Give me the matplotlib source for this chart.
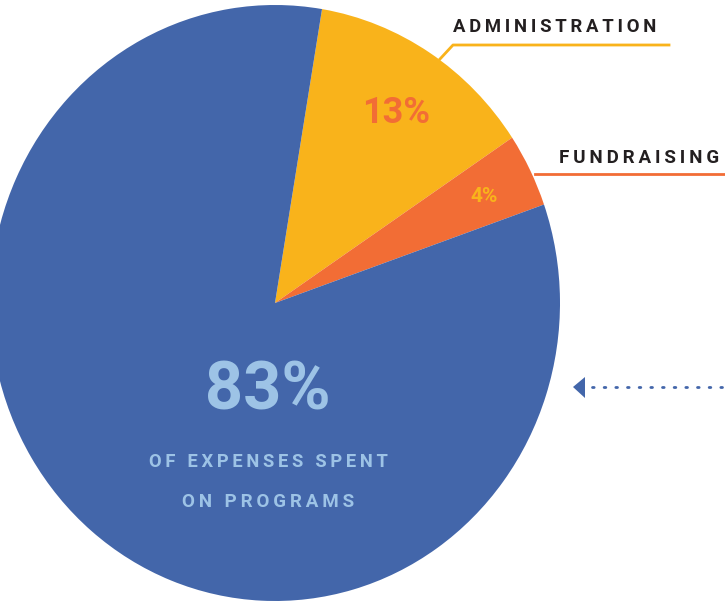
import matplotlib
matplotlib.use("Agg")
import matplotlib.pyplot as plt
from matplotlib.patches import Polygon

plt.rcParams['font.family'] = ['Roboto', 'DejaVu Sans']

# Expense breakdown (percent of total), clockwise from the top
categories = ["Administration", "Fundraising", "Programs"]
shares = [13, 4, 83]
colors = ["#F9B31B", "#F26D35", "#4366AA"]

W, H = 725, 603
fig = plt.figure(figsize=(W / 100, H / 100), dpi=100)

# pie axes: slightly taller than wide, cut off on the left like the original
cx, cy, rx, ry = 275, 303, 285, 298
ax = fig.add_axes([(cx - rx) / W, (H - cy - ry) / H, 2 * rx / W, 2 * ry / H])
ax.pie(shares, colors=colors, startangle=80.5, counterclock=False,
       radius=1, wedgeprops=dict(linewidth=0))
ax.set_aspect('auto')
ax.set_xlim(-1, 1)
ax.set_ylim(-1, 1)
ax.axis('off')

# overlay in pixel coordinates for labels and callouts
ov = fig.add_axes([0, 0, 1, 1])
ov.set_xlim(0, W)
ov.set_ylim(H, 0)
ov.axis('off')


def spaced(s):
    return "\u2009".join(s)


# values inside the pie
ov.text(268, 392, f"{shares[2]}%", color="#9DC3E6", fontsize=48,
        fontweight='bold', ha='center', va='center')
ov.text(268, 462, spaced("OF EXPENSES SPENT"), color="#9DC3E6", fontsize=13.2,
        fontweight='bold', ha='center', va='center')
ov.text(268, 502, spaced("ON PROGRAMS"), color="#9DC3E6", fontsize=13.5,
        fontweight='bold', ha='center', va='center')
ov.text(396, 113, f"{shares[0]}%", color=colors[1], fontsize=26,
        fontweight='bold', ha='center', va='center')
ov.text(484, 196, f"{shares[1]}%", color=colors[0], fontsize=15,
        fontweight='bold', ha='center', va='center')

# callout labels
ov.text(453, 27, spaced(categories[0].upper()), color="#231F20", fontsize=13.3,
        fontweight='bold', ha='left', va='center')
ov.plot([440, 453, 669], [59, 45, 45], color=colors[0], lw=2)

ov.text(559, 158, spaced(categories[1].upper()), color="#231F20", fontsize=13.5,
        fontweight='bold', ha='left', va='center')
ov.plot([535, 725], [174, 174], color=colors[1], lw=2)

# dotted arrow pointing at the programs slice
ov.plot([592, 725], [387, 387], color=colors[2], lw=2,
        linestyle=(0, (0.6, 3.6)), solid_capstyle='round', dash_capstyle='round')
ov.add_patch(Polygon([[573, 387], [585, 377], [585, 398]], closed=True,
                     color=colors[2], lw=0))

fig.savefig("out.png", dpi=100)
